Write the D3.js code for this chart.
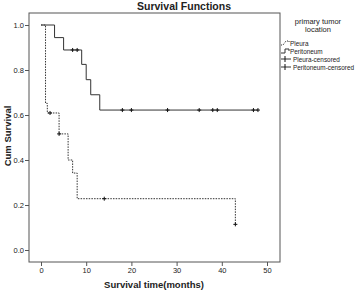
<!DOCTYPE html>
<html>
<head>
<meta charset="utf-8">
<script src="https://cdn.jsdelivr.net/npm/d3@7"></script>
<style>
  body { margin: 0; background: #fff; }
  text { font-family: "Liberation Sans", Arial, sans-serif; fill: #222; }
</style>
</head>
<body>
<div id="chart"></div>
<script>
// step data (time in months, cum survival)
const pleuraTimes = [0, 1, 1.4, 4, 6, 7, 8, 43];
const pleuraSurv = [1, 0.652, 0.609, 0.516, 0.40, 0.342, 0.228, 0.114];
const pleuraEnd = 43;
const pleuraCensTimes = [2, 4, 14, 43];

const peritTimes = [0, 3, 5, 9, 10, 11, 13];
const peritSurv = [1, 0.944, 0.889, 0.825, 0.757, 0.69, 0.622];
const peritEnd = 48;
const peritCensTimes = [7, 8, 18, 20, 28, 35, 38, 39, 47, 48];

const xTicks = [0, 10, 20, 30, 40, 50];
const yTicks = [0, 0.2, 0.4, 0.6, 0.8, 1.0];
const legendLabels = ["Pleura", "Peritoneum", "Pleura-censored", "Peritoneum-censored"];

const width = 359, height = 292;
const box = { left: 29, top: 13, right: 280, bottom: 262 };

const svg = d3.select("#chart").append("svg")
    .attr("width", width)
    .attr("height", height);

const x = d3.scaleLinear().domain([0, 50]).range([41, 267]);
const y = d3.scaleLinear().domain([0, 1]).range([250, 25]);

// survival value at time t for a step function
function survAt(times, surv, t) {
    let s = surv[0];
    for (let i = 0; i < times.length; i++) if (times[i] <= t) s = surv[i];
    return s;
}

// plot frame
svg.append("rect")
    .attr("x", box.left).attr("y", box.top)
    .attr("width", box.right - box.left).attr("height", box.bottom - box.top)
    .attr("fill", "none").attr("stroke", "#555").attr("stroke-width", 1);

// axes
const yAxis = svg.append("g")
    .attr("transform", `translate(${box.left},0)`)
    .call(d3.axisLeft(y).tickValues(yTicks).tickFormat(d3.format(".1f")).tickSize(4).tickPadding(1));
const xAxis = svg.append("g")
    .attr("transform", `translate(0,${box.bottom})`)
    .call(d3.axisBottom(x).tickValues(xTicks).tickSize(4).tickPadding(2));
[xAxis, yAxis].forEach(g => {
    g.select(".domain").remove();
    g.selectAll("line").attr("stroke", "#555");
    g.selectAll("text").style("font-size", "7.5px").attr("fill", "#333");
});

// step curves
const stepLine = d3.line().x(d => x(d[0])).y(d => y(d[1])).curve(d3.curveStepAfter);

function drawCurve(times, surv, end, dash) {
    const pts = times.map((t, i) => [t, surv[i]]);
    pts.push([end, surv[surv.length - 1]]);
    svg.append("path")
        .attr("d", stepLine(pts))
        .attr("fill", "none")
        .attr("stroke", "#333")
        .attr("stroke-width", 1)
        .attr("stroke-dasharray", dash);
}
drawCurve(peritTimes, peritSurv, peritEnd, null);
drawCurve(pleuraTimes, pleuraSurv, pleuraEnd, "1.5,1.2");

// censor marks
function drawCensors(times, stepTimes, surv) {
    const g = svg.append("g");
    times.forEach(t => {
        const cx = x(t), cy = y(survAt(stepTimes, surv, t));
        g.append("line").attr("x1", cx - 2).attr("x2", cx + 2).attr("y1", cy).attr("y2", cy)
            .attr("stroke", "#111").attr("stroke-width", 1);
        g.append("line").attr("x1", cx).attr("x2", cx).attr("y1", cy - 2).attr("y2", cy + 2)
            .attr("stroke", "#111").attr("stroke-width", 1);
    });
}
drawCensors(peritCensTimes, peritTimes, peritSurv);
drawCensors(pleuraCensTimes, pleuraTimes, pleuraSurv);

// titles
svg.append("text")
    .attr("x", 184).attr("y", 10)
    .attr("text-anchor", "middle")
    .style("font-size", "10.5px").style("font-weight", "bold")
    .text("Survival Functions");
svg.append("text")
    .attr("transform", "translate(11,136) rotate(-90)")
    .attr("text-anchor", "middle")
    .style("font-size", "9.5px").style("font-weight", "bold")
    .text("Cum Survival");
svg.append("text")
    .attr("x", 154).attr("y", 288)
    .attr("text-anchor", "middle")
    .style("font-size", "9.5px").style("font-weight", "bold")
    .text("Survival time(months)");

// legend
const legend = svg.append("g").attr("transform", "translate(281,0)");
legend.append("text").attr("x", 37).attr("y", 24).attr("text-anchor", "middle")
    .attr("fill", "#222").style("font-size", "7.5px").text("primary tumor");
legend.append("text").attr("x", 37).attr("y", 32).attr("text-anchor", "middle")
    .attr("fill", "#222").style("font-size", "7.5px").text("location");

const rowY = [43, 51, 59, 67];
legendLabels.forEach((lab, i) => {
    const ly = rowY[i];
    const g = legend.append("g").attr("transform", `translate(0,${ly})`);
    if (i === 0) {
        g.append("path").attr("d", "M0,2 L2,2 L5,-2 L8,-2 L8,0")
            .attr("fill", "none").attr("stroke", "#333").attr("stroke-dasharray", "1,1");
    } else if (i === 1) {
        g.append("path").attr("d", "M0,2 L4,2 L4,-2 L8,-2 L8,0")
            .attr("fill", "none").attr("stroke", "#333");
    } else {
        g.append("line").attr("x1", 0).attr("x2", 10).attr("y1", 0).attr("y2", 0).attr("stroke", "#333");
        g.append("line").attr("x1", 4).attr("x2", 4).attr("y1", -3).attr("y2", 3).attr("stroke", "#111");
    }
    g.append("text").attr("x", i < 2 ? 9 : 12).attr("y", 2.5)
        .attr("fill", "#222").style("font-size", "6.4px").text(lab);
});
</script>
</body>
</html>
